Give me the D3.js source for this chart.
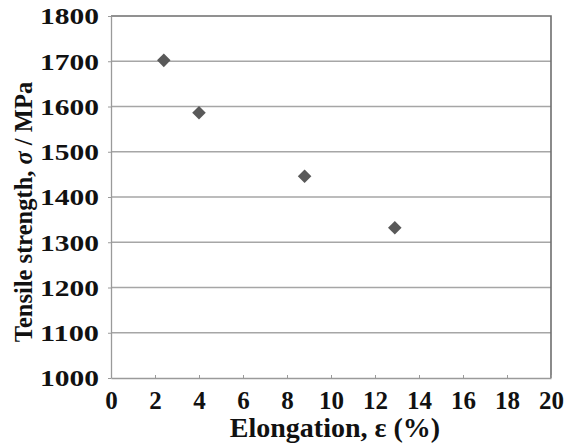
<!DOCTYPE html>
<html>
<head>
<meta charset="utf-8">
<script src="https://cdn.jsdelivr.net/npm/d3@7"></script>
<style>
  body { margin: 0; background: #fff; }
  svg { display: block; }
  text { font-family: "Liberation Serif", "Times New Roman", serif; font-weight: bold; fill: #111; }
</style>
</head>
<body>
<svg width="565" height="448"></svg>
<script>
// elongation (%) and tensile strength (MPa)
var elongation = [2.4, 4.0, 8.8, 12.9]
var strength = [1702, 1586, 1446, 1332]
var xTicks = [0, 2, 4, 6, 8, 10, 12, 14, 16, 18, 20]
var yTicks = [1000, 1100, 1200, 1300, 1400, 1500, 1600, 1700, 1800]

;(function (d3) {
  var svg = d3.select('svg')
  var pl = 111, pr = 551, pt = 16, pb = 378

  var x = d3.scaleLinear().domain([0, 20]).range([pl, pr])
  var y = d3.scaleLinear().domain([1000, 1800]).range([pb, pt])

  // grid lines
  svg.append('g')
    .selectAll('line')
    .data(yTicks.slice(1, -1))
    .enter()
    .append('line')
    .attr('x1', pl).attr('x2', pr)
    .attr('y1', function (d) { return y(d) }).attr('y2', function (d) { return y(d) })
    .style('stroke', '#a6a6a6')
    .style('stroke-width', 1.3)

  // top + right frame (darker)
  svg.append('path')
    .attr('d', 'M' + pl + ',' + pt + 'H' + pr + 'V' + pb)
    .style('fill', 'none')
    .style('stroke', '#6e6e6e')
    .style('stroke-width', 1.6)

  // x axis
  var xAxis = svg.append('g')
    .attr('transform', 'translate(0,' + pb + ')')
    .call(d3.axisBottom(x).tickValues(xTicks).tickSize(-3).tickPadding(0).tickSizeOuter(0))
  xAxis.select('.domain').style('stroke', '#9a9a9a').style('stroke-width', 1.3)
  xAxis.selectAll('.tick line').style('stroke', '#9a9a9a')
  xAxis.selectAll('.tick text')
    .attr('y', 31)
    .attr('dy', 0)
    .style('font-size', '25px')
    .style('font-family', '"Liberation Serif", serif')
    .style('fill', '#111')

  // y axis
  var yAxis = svg.append('g')
    .attr('transform', 'translate(' + pl + ',0)')
    .call(d3.axisLeft(y).tickValues(yTicks).tickFormat(d3.format('d')).tickSize(3).tickPadding(0).tickSizeOuter(0))
  yAxis.select('.domain').style('stroke', '#9a9a9a').style('stroke-width', 1.3)
  yAxis.selectAll('.tick line').style('stroke', '#9a9a9a')
  yAxis.selectAll('.tick text')
    .attr('x', -12)
    .attr('dy', '0.35em')
    .attr('textLength', 59)
    .attr('lengthAdjust', 'spacingAndGlyphs')
    .style('font-size', '22.5px')
    .style('font-family', '"Liberation Serif", serif')
    .style('fill', '#111')

  // points
  svg.append('g')
    .selectAll('path')
    .data(elongation)
    .enter()
    .append('path')
    .attr('d', d3.symbol().type(d3.symbolSquare).size(92))
    .attr('transform', function (d, i) {
      return 'translate(' + x(d) + ',' + y(strength[i]) + ') rotate(45)'
    })
    .style('fill', '#595959')

  // axis titles
  svg.append('text')
    .attr('x', (pl + pr) / 2 + 4)
    .attr('y', 437)
    .attr('text-anchor', 'middle')
    .style('font-size', '28px')
    .text('Elongation, ε (%)')

  var yt = svg.append('text')
    .attr('transform', 'translate(32,' + ((pt + pb) / 2 + 15) + ') rotate(-90)')
    .attr('text-anchor', 'middle')
    .style('font-size', '24.5px')
  yt.append('tspan').text('Tensile strength, ')
  yt.append('tspan').style('font-style', 'italic').text('σ')
  yt.append('tspan').text(' / MPa')
})(window.d3)
</script>
</body>
</html>
